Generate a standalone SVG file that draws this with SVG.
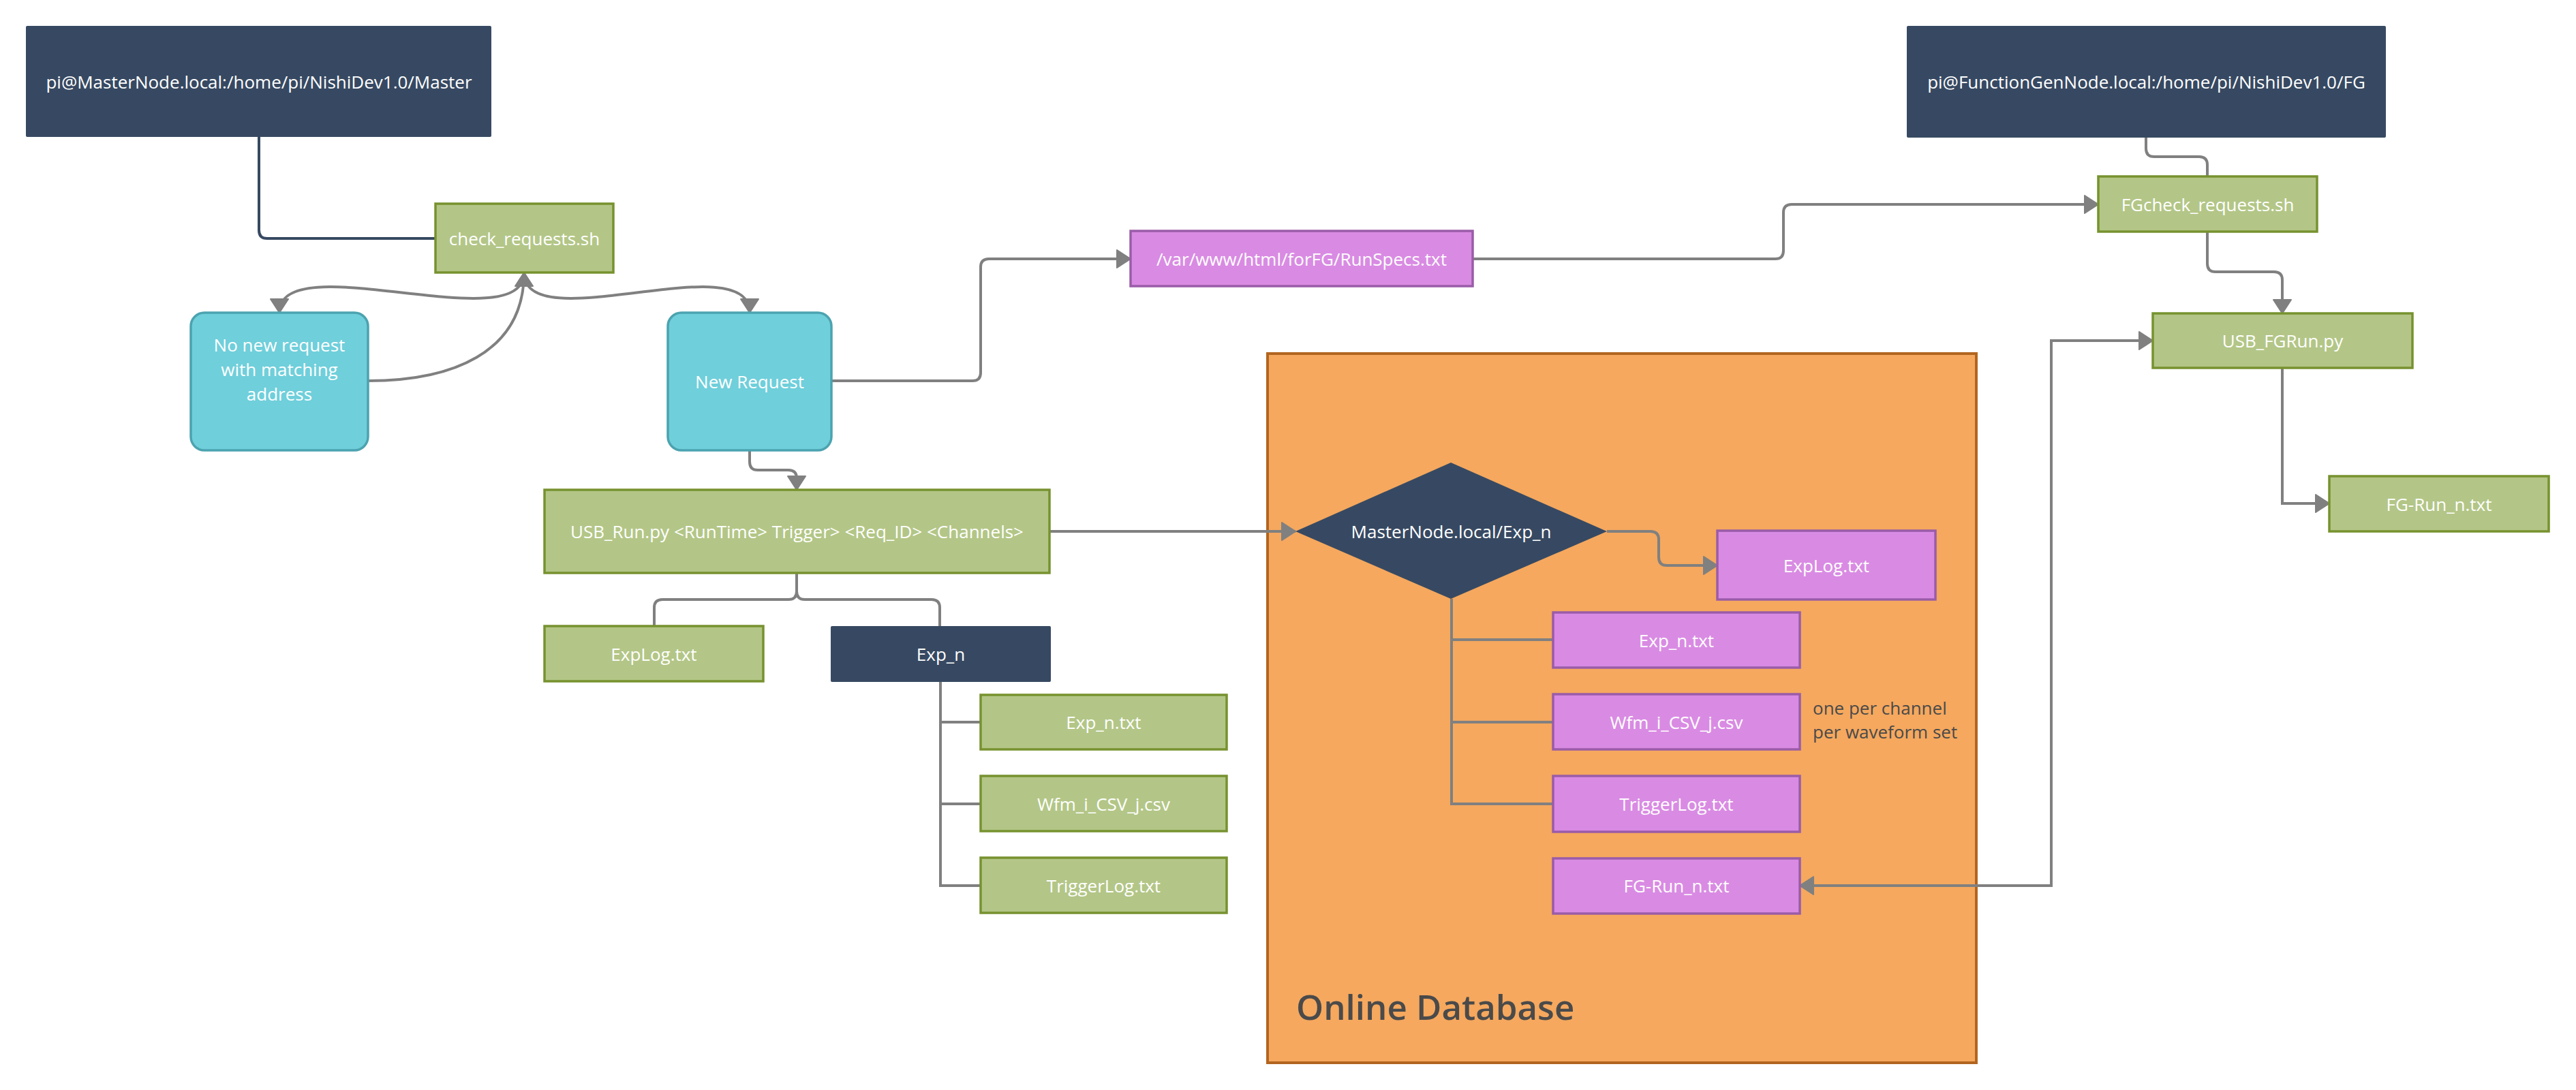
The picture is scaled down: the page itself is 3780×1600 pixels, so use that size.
<svg xmlns="http://www.w3.org/2000/svg" width="3780" height="1600" viewBox="0 0 3780 1600">
<style>
  text { font-family: "Open Sans", "Noto Sans", "Liberation Sans", sans-serif; font-size: 26px; fill: #ffffff; text-anchor: middle; }
  .dark { fill: #374962; }
  .green { fill: #b3c687; stroke: #77922f; stroke-width: 3.5; }
  .cyan { fill: #6fcfdb; stroke: #4ca3b0; stroke-width: 3.5; }
  .purple { fill: #d98be3; stroke: #9a5ca8; stroke-width: 3.5; }
  .db { fill: #f5a85e; stroke: #b2651f; stroke-width: 4; }
  .conn { fill: none; stroke: #808080; stroke-width: 4; }
  .connDark { fill: none; stroke: #374962; stroke-width: 4; }
  .note { fill: #4a4a4a; text-anchor: start; }
  .title { fill: #4a4a4a; font-size: 51px; font-weight: 600; text-anchor: start; }
</style>
<defs>
  <marker id="arrow" markerUnits="userSpaceOnUse" markerWidth="24" markerHeight="30" refX="21" refY="14" orient="auto-start-reverse" viewBox="0 0 24 28">
    <path d="M1,1 L21,14 L1,27 z" fill="#808080" stroke="#808080" stroke-width="2" stroke-linejoin="round"/>
  </marker>
</defs>
<rect x="0" y="0" width="3780" height="1600" fill="#ffffff"/>

<g id="online-database">
  <rect class="db" x="1860" y="519" width="1040" height="1041"/>
  <text class="title" x="1902" y="1497">Online Database</text>
</g>

<g id="connectors">
  <path class="connDark" d="M380,201 V338 Q380,350 392,350 H639"/>
  <path class="conn" marker-end="url(#arrow)" d="M769,400 C769,500 410,359 410,459"/>
  <path class="conn" marker-end="url(#arrow)" d="M769,400 C769,500 1100,359 1100,459"/>
  <path class="conn" marker-end="url(#arrow)" d="M540,559 C660,559 769,520 769,400"/>
  <path class="conn" marker-end="url(#arrow)" d="M1100,661 V678 Q1100,690 1112,690 H1157 Q1169,690 1169,702 V719"/>
  <path class="conn" marker-end="url(#arrow)" d="M1220,559 H1427 Q1439,559 1439,547 V392 Q1439,380 1451,380 H1659"/>
  <path class="conn" marker-end="url(#arrow)" d="M2161,380 H2605 Q2617,380 2617,368 V312 Q2617,300 2629,300 H3079"/>
  <path class="conn" marker-end="url(#arrow)" d="M1540,780 H1901"/>
  <path class="conn" d="M1169,841 V868 Q1169,880 1157,880 H972 Q960,880 960,892 V919"/>
  <path class="conn" d="M1169,841 V868 Q1169,880 1181,880 H1367 Q1379,880 1379,892 V919"/>
  <path class="conn" d="M1380,1001 V1300 H1439 M1380,1060 H1439 M1380,1180 H1439"/>
  <path class="conn" marker-end="url(#arrow)" d="M2358,780 H2422 Q2434,780 2434,792 V818 Q2434,830 2446,830 H2520"/>
  <path class="conn" d="M2130,879 V1180 H2279 M2130,939 H2279 M2130,1060 H2279"/>
  <path class="conn" d="M3149,202 V218 Q3149,230 3161,230 H3227 Q3239,230 3239,242 V259"/>
  <path class="conn" marker-end="url(#arrow)" d="M3239,340 V387 Q3239,399 3251,399 H3337 Q3349,399 3349,411 V460"/>
  <path class="conn" marker-end="url(#arrow)" d="M3349,540 V739 H3418"/>
  <path class="conn" marker-start="url(#arrow)" marker-end="url(#arrow)" d="M3159,500 H3010 V1300 H2641"/>
</g>

<g id="master-node">
  <rect class="dark" x="38" y="38" width="683" height="163" rx="2"/>
  <text x="380" y="130">pi@MasterNode.local:/home/pi/NishiDev1.0/Master</text>
</g>
<g id="check-requests">
  <rect class="green" x="639" y="299" width="261" height="101"/>
  <text x="769.5" y="360">check_requests.sh</text>
</g>
<g id="no-new-request">
  <rect class="cyan" x="280" y="459" width="260" height="202" rx="20"/>
  <text x="410" y="516">No new request</text>
  <text x="410" y="552">with matching</text>
  <text x="410" y="588">address</text>
</g>
<g id="new-request">
  <rect class="cyan" x="980" y="459" width="240" height="202" rx="20"/>
  <text x="1100" y="570">New Request</text>
</g>
<g id="runspecs">
  <rect class="purple" x="1659" y="339" width="502" height="81"/>
  <text x="1910" y="390">/var/www/html/forFG/RunSpecs.txt</text>
</g>
<g id="usb-run">
  <rect class="green" x="799" y="719" width="741" height="122"/>
  <text x="1169.5" y="790">USB_Run.py &lt;RunTime&gt; Trigger&gt; &lt;Req_ID&gt; &lt;Channels&gt;</text>
</g>
<g id="explog-local">
  <rect class="green" x="799" y="919" width="321" height="81"/>
  <text x="959.5" y="970">ExpLog.txt</text>
</g>
<g id="exp-n">
  <rect class="dark" x="1219" y="919" width="323" height="82" rx="2"/>
  <text x="1380.5" y="970">Exp_n</text>
</g>
<g id="exp-n-txt-local">
  <rect class="green" x="1439" y="1020" width="361" height="80"/>
  <text x="1619.5" y="1070">Exp_n.txt</text>
</g>
<g id="wfm-local">
  <rect class="green" x="1439" y="1139" width="361" height="81"/>
  <text x="1619.5" y="1190">Wfm_i_CSV_j.csv</text>
</g>
<g id="triggerlog-local">
  <rect class="green" x="1439" y="1259" width="361" height="81"/>
  <text x="1619.5" y="1310">TriggerLog.txt</text>
</g>
<g id="db-diamond">
  <polygon class="dark" points="1901,780 2129,679 2358,780 2129,879"/>
  <text x="2129.5" y="790">MasterNode.local/Exp_n</text>
</g>
<g id="db-explog">
  <rect class="purple" x="2520" y="779" width="320" height="101"/>
  <text x="2680" y="840">ExpLog.txt</text>
</g>
<g id="db-exp-n-txt">
  <rect class="purple" x="2279" y="899" width="362" height="81"/>
  <text x="2460" y="950">Exp_n.txt</text>
</g>
<g id="db-wfm">
  <rect class="purple" x="2279" y="1019" width="362" height="81"/>
  <text x="2460" y="1070">Wfm_i_CSV_j.csv</text>
</g>
<g id="db-note">
  <text class="note" x="2660" y="1049">one per channel</text>
  <text class="note" x="2660" y="1084">per waveform set</text>
</g>
<g id="db-triggerlog">
  <rect class="purple" x="2279" y="1139" width="362" height="82"/>
  <text x="2460" y="1190">TriggerLog.txt</text>
</g>
<g id="db-fg-run">
  <rect class="purple" x="2279" y="1260" width="362" height="81"/>
  <text x="2460" y="1310">FG-Run_n.txt</text>
</g>
<g id="fg-node">
  <rect class="dark" x="2798" y="38" width="703" height="164" rx="2"/>
  <text x="3149.5" y="130">pi@FunctionGenNode.local:/home/pi/NishiDev1.0/FG</text>
</g>
<g id="fg-check-requests">
  <rect class="green" x="3079" y="259" width="321" height="81"/>
  <text x="3239.5" y="310">FGcheck_requests.sh</text>
</g>
<g id="usb-fgrun">
  <rect class="green" x="3159" y="460" width="381" height="80"/>
  <text x="3349.5" y="510">USB_FGRun.py</text>
</g>
<g id="fg-run-local">
  <rect class="green" x="3418" y="699" width="322" height="81"/>
  <text x="3579" y="750">FG-Run_n.txt</text>
</g>
</svg>
